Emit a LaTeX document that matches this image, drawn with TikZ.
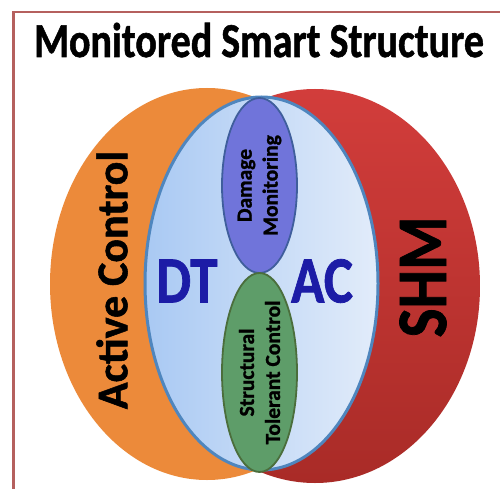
\documentclass[tikz,border=0pt]{standalone}
\usepackage{fontspec}
\setmainfont{Carlito}[BoldFeatures={FakeBold=1.2}]
\usetikzlibrary{shapes.geometric}
\definecolor{frameRed}{HTML}{B5605E}
\definecolor{acOrange}{HTML}{EC8A3A}
\definecolor{shmTop}{HTML}{D23D3B}
\definecolor{shmBot}{HTML}{A92B27}
\definecolor{dtLeft}{HTML}{A9C9F3}
\definecolor{dtRight}{HTML}{E2ECFA}
\definecolor{dtEdge}{HTML}{4F86BE}
\definecolor{dmFill}{HTML}{7074DA}
\definecolor{dmEdge}{HTML}{3F5E9C}
\definecolor{stFill}{HTML}{5E9D69}
\definecolor{stEdge}{HTML}{4B6E3C}
\definecolor{dtText}{HTML}{1C1CA6}

\begin{document}
\begin{tikzpicture}
  [x=1pt,y=1pt,
   blob/.style={ellipse,inner sep=0pt},
   bigT/.style={font=\bfseries\fontsize{#1}{#1}\selectfont},
   smallT/.style={font=\bfseries\fontsize{21.5}{26}\selectfont,align=center,rotate=90}]

  \useasboundingbox (0,0) rectangle (500,488);
  \fill[white] (0,0) rectangle (500,488);
  \draw[frameRed,line width=2.5] (13.5,-10) -- (13.5,476) -- (510,476);

  \node[bigT=40,anchor=base] (title) at (259,431) {\scalebox{1}[1.22]{Monitored Smart Structure}};

  % the two outer fields
  \node[blob,top color=shmTop,bottom color=shmBot,
        minimum width=330,minimum height=394] (shm) at (315,202) {};
  \node[blob,fill=acOrange,minimum width=314,minimum height=392] (ac) at (207,204) {};

  % digital twin / active control
  \node[blob,left color=dtLeft,right color=dtRight,draw=dtEdge,line width=3,
        minimum width=233,minimum height=373] (dt) at (261.5,204.5) {};

  \node[blob,fill=dmFill,draw=dmEdge,line width=1.8,
        minimum width=75,minimum height=175] (dm) at (259.5,302.5) {};
  \node[blob,fill=stFill,draw=stEdge,line width=1.8,
        minimum width=75,minimum height=199] (st) at (259.5,115.5) {};

  \node[bigT=44,rotate=90] (acT) at (112,208) {Active Control};
  \node[bigT=71,rotate=90] (shmT) at (423,211) {\scalebox{0.86}[1]{SHM}};
  \node[bigT=55,text=dtText] (dtT) at (187,207) {\scalebox{1}[1.2]{DT}};
  \node[bigT=55,text=dtText] (acT2) at (322,207) {\scalebox{1}[1.2]{AC}};

  \node[smallT] (dmT) at (dm) {Damage\\Monitoring};
  \node[smallT] (stT) at (st) {Structural\\Tolerant Control};
\end{tikzpicture}
\end{document}
